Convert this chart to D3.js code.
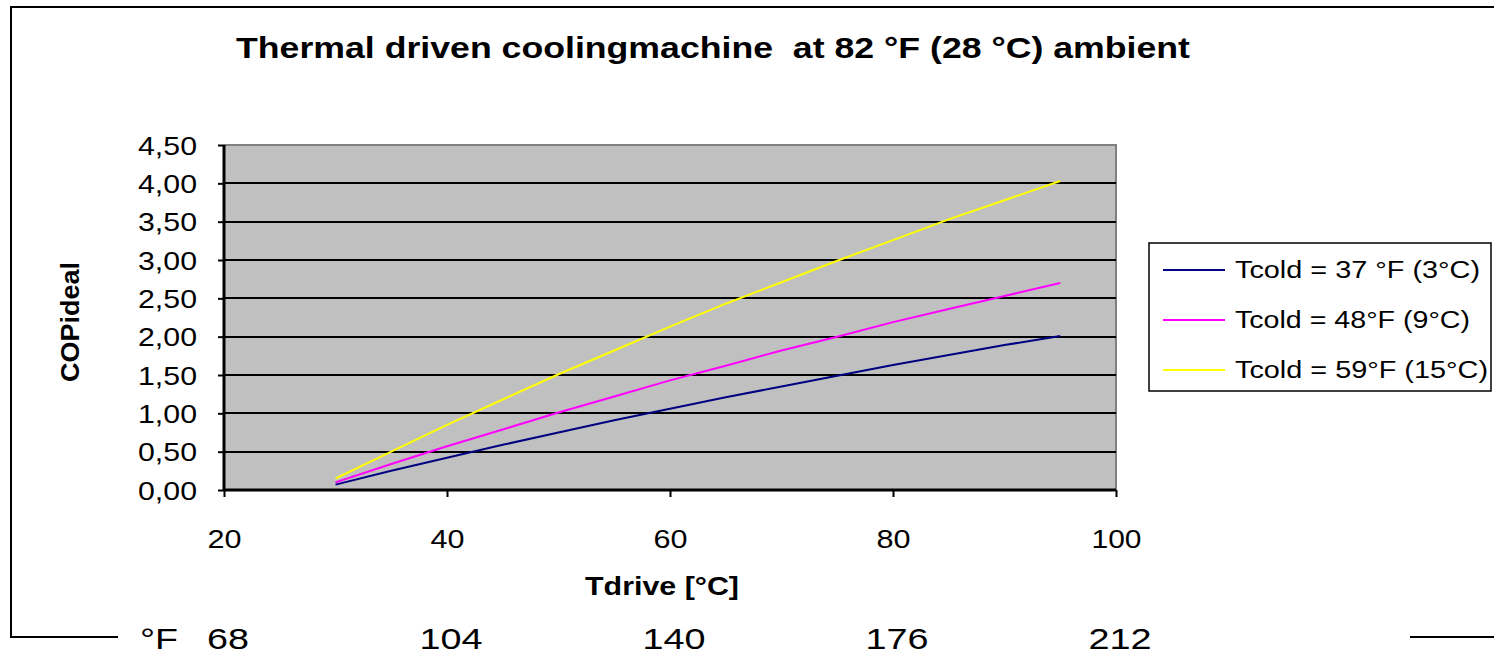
<!DOCTYPE html>
<html>
<head>
<meta charset="utf-8">
<script src="https://cdn.jsdelivr.net/npm/d3@7"></script>
<style>
  html, body { margin: 0; padding: 0; background: #fff; }
  svg { display: block; font-family: "Liberation Sans", Arial, sans-serif; }
  text { white-space: pre; }
</style>
</head>
<body>
<svg id="chart" width="1494" height="656"></svg>
<script>
// ---- data ----
const tdrive = [30, 35, 40, 45, 50, 55, 60, 65, 70, 75, 80, 85, 90, 95];
const cop3C  = [0.07, 0.25, 0.42, 0.59, 0.75, 0.91, 1.06, 1.21, 1.35, 1.49, 1.63, 1.76, 1.89, 2.01];
const cop9C  = [0.10, 0.34, 0.57, 0.79, 1.01, 1.22, 1.43, 1.62, 1.82, 2.00, 2.19, 2.36, 2.53, 2.70];
const cop15C = [0.15, 0.50, 0.85, 1.18, 1.51, 1.82, 2.13, 2.43, 2.71, 2.99, 3.26, 3.53, 3.78, 4.03];
const seriesNames = ["Tcold = 37 °F (3°C)", "Tcold = 48°F (9°C)", "Tcold = 59°F (15°C)"];
const seriesColors = ["#000080", "#ff00ff", "#ffff00"];
const xTicks = [20, 40, 60, 80, 100];
const fTickLabels = ["68", "104", "140", "176", "212"];
const yTicks = [0, 0.5, 1, 1.5, 2, 2.5, 3, 3.5, 4, 4.5];
const titleText = "Thermal driven coolingmachine  at 82 °F (28 °C) ambient";
const xTitle = "Tdrive [°C]";
const yTitle = "COPideal";

const series = [cop3C, cop9C, cop15C].map((vals, i) => ({
  name: seriesNames[i], color: seriesColors[i],
  pts: tdrive.map((t, j) => ({x: t, y: vals[j]}))
}));

const svg = d3.select("#chart");
const W = 1494, H = 656;
const plot = {left: 224, right: 1116, top: 145, bottom: 490};

const x = d3.scaleLinear().domain([20, 100]).range([plot.left, plot.right]);
const y = d3.scaleLinear().domain([0, 4.5]).range([plot.bottom, plot.top]);

// outer frame
svg.append("rect").attr("x", 11).attr("y", 7).attr("width", W + 20).attr("height", 630)
  .attr("fill", "#fff").attr("stroke", "#000").attr("stroke-width", 2);

// title
svg.append("text").attr("x", 236).attr("y", 58)
  .attr("font-size", 30).attr("font-weight", "bold")
  .attr("textLength", 954).attr("lengthAdjust", "spacingAndGlyphs")
  .text(titleText);

// plot background
svg.append("rect").attr("x", plot.left).attr("y", plot.top)
  .attr("width", plot.right - plot.left).attr("height", plot.bottom - plot.top)
  .attr("fill", "#c0c0c0");
// top & right gray border
svg.append("path")
  .attr("d", `M${plot.left},${plot.top}H${plot.right}V${plot.bottom}`)
  .attr("fill", "none").attr("stroke", "#808080").attr("stroke-width", 2);

// gridlines
svg.append("g").selectAll("line").data(yTicks.filter(d => d > 0 && d < 4.5)).join("line")
  .attr("x1", plot.left).attr("x2", plot.right)
  .attr("y1", d => Math.round(y(d))).attr("y2", d => Math.round(y(d)))
  .attr("stroke", "#000").attr("stroke-width", 2);

// y axis
const yAxis = svg.append("g").attr("transform", `translate(${plot.left},0)`)
  .call(d3.axisLeft(y).tickValues(yTicks).tickSize(6).tickPadding(0)
    .tickFormat(d => d3.format(".2f")(d).replace(".", ",")));
yAxis.select(".domain").attr("stroke", "#000").attr("stroke-width", 3)
  .attr("d", `M0,${plot.top}V${plot.bottom}`);
yAxis.selectAll(".tick line").attr("stroke", "#000").attr("stroke-width", 2);
yAxis.selectAll(".tick text")
  .attr("x", -27).attr("dy", "0.36em")
  .attr("font-size", 25).attr("fill", "#000").attr("font-family", "Liberation Sans, Arial, sans-serif")
  .attr("textLength", 59).attr("lengthAdjust", "spacingAndGlyphs");

// x axis
const xAxis = svg.append("g").attr("transform", `translate(0,${plot.bottom})`)
  .call(d3.axisBottom(x).tickValues(xTicks).tickSize(7).tickPadding(0).tickFormat(d3.format("d")));
xAxis.select(".domain").attr("stroke", "#000").attr("stroke-width", 3)
  .attr("d", `M${plot.left},0H${plot.right}`);
xAxis.selectAll(".tick line").attr("stroke", "#000").attr("stroke-width", 2);
xAxis.selectAll(".tick text")
  .attr("y", 58).attr("dy", 0)
  .attr("font-size", 25).attr("fill", "#000").attr("font-family", "Liberation Sans, Arial, sans-serif")
  .attr("textLength", d => d >= 100 ? 50 : 34).attr("lengthAdjust", "spacingAndGlyphs");

// series lines
const line = d3.line().x(d => x(d.x)).y(d => y(d.y));
svg.append("g").selectAll("path").data(series).join("path")
  .attr("d", d => line(d.pts))
  .attr("fill", "none").attr("stroke", d => d.color).attr("stroke-width", 2);

// axis titles
svg.append("text").attr("x", 662).attr("y", 595).attr("text-anchor", "middle")
  .attr("font-size", 25).attr("font-weight", "bold")
  .attr("textLength", 154).attr("lengthAdjust", "spacingAndGlyphs")
  .text(xTitle);
svg.append("text").attr("transform", "translate(79,322) rotate(-90)").attr("text-anchor", "middle")
  .attr("font-size", 25).attr("font-weight", "bold")
  .attr("textLength", 120).attr("lengthAdjust", "spacingAndGlyphs")
  .text(yTitle);

// Fahrenheit row (white band hides frame bottom)
svg.append("rect").attr("x", 118).attr("y", 620).attr("width", 1410 - 118).attr("height", 40).attr("fill", "#fff");
svg.append("text").attr("x", 159).attr("y", 649).attr("text-anchor", "middle")
  .attr("font-size", 30).attr("textLength", 38).attr("lengthAdjust", "spacingAndGlyphs").text("°F");
svg.append("g").selectAll("text").data(xTicks).join("text")
  .attr("x", d => x(d) + 4).attr("y", 649).attr("text-anchor", "middle")
  .attr("font-size", 30)
  .attr("textLength", (d, i) => fTickLabels[i].length * 21)
  .attr("lengthAdjust", "spacingAndGlyphs")
  .text((d, i) => fTickLabels[i]);

// legend
const lg = svg.append("g");
lg.append("rect").attr("x", 1149).attr("y", 243).attr("width", 342).attr("height", 148)
  .attr("fill", "#fff").attr("stroke", "#000").attr("stroke-width", 1.5);
const legendWidths = [245, 235, 253];
const items = lg.selectAll("g.item").data(series).join("g").attr("class", "item")
  .attr("transform", (d, i) => `translate(0,${270 + i * 50})`);
items.append("line").attr("x1", 1163).attr("x2", 1225).attr("y1", 0).attr("y2", 0)
  .attr("stroke", d => d.color).attr("stroke-width", 2);
items.append("text").attr("x", 1235).attr("y", 0).attr("dy", "0.36em")
  .attr("font-size", 23)
  .attr("textLength", (d, i) => legendWidths[i]).attr("lengthAdjust", "spacingAndGlyphs")
  .text(d => d.name);
</script>
</body>
</html>
